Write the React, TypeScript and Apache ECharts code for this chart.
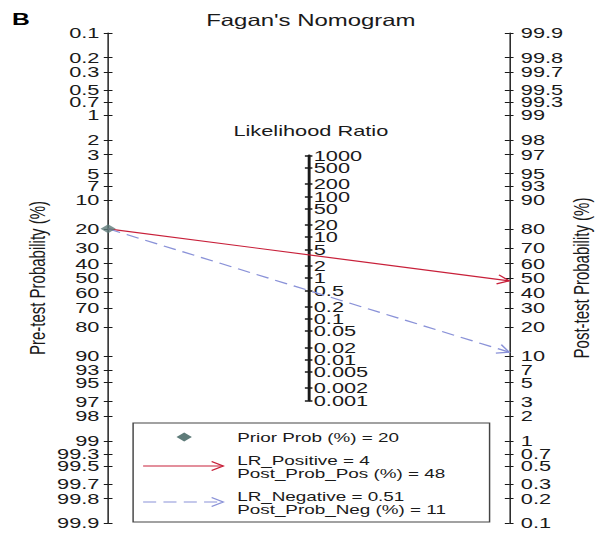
import React, { useEffect, useRef } from "react";
import * as echarts from "echarts";

// Tick values of the three nomogram scales
const probTicks = [
  0.1, 0.2, 0.3, 0.5, 0.7, 1, 2, 3, 5, 7, 10, 20, 30, 40, 50, 60, 70, 80, 90,
  93, 95, 97, 98, 99, 99.3, 99.5, 99.7, 99.8, 99.9,
];
const lrTicks = [
  1000, 500, 200, 100, 50, 20, 10, 5, 2, 1, 0.5, 0.2, 0.1, 0.05, 0.02, 0.01,
  0.005, 0.002, 0.001,
];

// Test results
const priorProb = 20;
const lrPositive = 4;
const postProbPos = 48;
const lrNegative = 0.51;
const postProbNeg = 11;

// Drawing is laid out at width W and stretched horizontally to the page width
const W = 412;
const H = 536;
const STRETCH = 598 / W;

const FONT = "'Liberation Sans', Arial, Helvetica, sans-serif";
const INK = "#1a1a1a";
const RED = "#c8203a";
const BLUE = "#8a92d8";
const DIAMOND = "#5e7b79";

const EPS = 1e-6;
const logit = (p: number) => Math.log(p / (100 - p));
const LMIN = logit(probTicks[0]);
const LMAX = logit(probTicks[probTicks.length - 1]);

// Main plotting area: left probability scale to right probability scale
const GL = 74.5;
const GR = 350.8;
const GT = 33;
const GH = 490;
const CENTER_Y = GT + GH / 2;
const PX_PER_UNIT = GH / (LMAX - LMIN);
// Likelihood ratio scale is half as steep (ln LR / 2 per logit unit)
const LR_MIN = Math.log(lrTicks[lrTicks.length - 1]);
const LR_MAX = Math.log(lrTicks[0]);
const MID_X = (GL + GR) / 2;
const MID_TOP = CENTER_Y - (LR_MAX / 2) * PX_PER_UNIT;
const MID_H = ((LR_MAX - LR_MIN) / 2) * PX_PER_UNIT;

const probValues = probTicks.map(logit);
const lrValues = lrTicks.map((v) => Math.log(v));
// The LR labels sit so close together that they are split over two stacked axes
const lrValuesA = lrValues.filter((_, i) => i % 2 === 0);
const lrValuesB = lrValues.filter((_, i) => i % 2 === 1);

const nearest = (ticks: number[], values: number[]) => (v: number) => {
  let best = 0;
  let d = Infinity;
  values.forEach((t, i) => {
    const dd = Math.abs(t - v);
    if (dd < d) {
      d = dd;
      best = i;
    }
  });
  return String(ticks[best]);
};

const probAxis = (position: "left" | "right", inverse: boolean, withLabels: boolean, insideTicks: boolean) => ({
  type: "value",
  gridIndex: 0,
  position,
  inverse,
  min: LMIN - EPS,
  max: LMAX + EPS,
  splitLine: { show: false },
  axisLine: { show: withLabels, onZero: false, lineStyle: { color: INK, width: 1 } },
  axisTick: {
    show: true,
    inside: insideTicks,
    length: 3,
    customValues: probValues,
    lineStyle: { color: INK, width: 1 },
  },
  axisLabel: {
    show: withLabels,
    customValues: probValues,
    formatter: nearest(probTicks, probValues),
    showMinLabel: true,
    showMaxLabel: true,
    margin: position === "left" ? 6 : 8,
    fontSize: 15,
    fontFamily: FONT,
    color: INK,
  },
});

const lrAxis = (showLine: boolean, insideTicks: boolean, labelValues: number[]) => ({
  type: "value",
  gridIndex: 1,
  position: "right",
  min: LR_MIN - EPS,
  max: LR_MAX + EPS,
  splitLine: { show: false },
  axisLine: { show: showLine, onZero: false, lineStyle: { color: INK, width: 2 } },
  axisTick: {
    show: true,
    inside: insideTicks,
    length: 2.6,
    customValues: lrValues,
    lineStyle: { color: INK, width: 1.5 },
  },
  axisLabel: {
    show: true,
    customValues: labelValues,
    formatter: nearest(lrTicks, lrValues),
    showMinLabel: true,
    showMaxLabel: true,
    margin: 3.5,
    fontSize: 15,
    fontFamily: FONT,
    color: INK,
  },
});

// Line from the prior on the left scale to the posterior on the right scale, ending in an open arrowhead
const arrowRenderer = (color: string, dash: number[] | null) => (params: any, api: any) => {
  const p0 = api.coord([api.value(0), api.value(1)]);
  const p1 = api.coord([api.value(2), api.value(3)]);
  const dx = p1[0] - p0[0];
  const dy = p1[1] - p0[1];
  const len = Math.sqrt(dx * dx + dy * dy);
  const ux = dx / len;
  const uy = dy / len;
  const back = 8;
  const half = 4.6;
  const bx = p1[0] - ux * back;
  const by = p1[1] - uy * back;
  return {
    type: "group",
    children: [
      {
        type: "line",
        shape: { x1: p0[0], y1: p0[1], x2: p1[0], y2: p1[1] },
        style: { stroke: color, lineWidth: 1.2, lineDash: dash || undefined, fill: "none" },
      },
      {
        type: "polyline",
        shape: {
          points: [
            [bx - uy * half, by + ux * half],
            [p1[0], p1[1]],
            [bx + uy * half, by - ux * half],
          ],
        },
        style: { stroke: color, lineWidth: 1.2, fill: "none" },
      },
    ],
  };
};

// Legend drawn as graphic elements
const LG = { x: 91.7, y: 423, w: 245.6, h: 99 };
const LEG_LINE_X0 = 98.6;
const LEG_LINE_X1 = 153.8;
const LEG_TEXT_X = 163.4;
const LEG_Z = 30;

const legendArrow = (y: number, color: string, dash: number[] | null) => [
  {
    type: "line",
    z: LEG_Z,
    shape: { x1: LEG_LINE_X0, y1: y, x2: LEG_LINE_X1, y2: y },
    style: { stroke: color, lineWidth: 1.2, lineDash: dash || undefined },
  },
  {
    type: "polyline",
    z: LEG_Z,
    shape: {
      points: [
        [LEG_LINE_X1 - 8, y - 4.6],
        [LEG_LINE_X1, y],
        [LEG_LINE_X1 - 8, y + 4.6],
      ],
    },
    style: { stroke: color, lineWidth: 1.2, fill: "none" },
  },
];

const legendText = (text: string, y: number) => ({
  type: "text",
  z: LEG_Z,
  x: LEG_TEXT_X,
  y,
  style: {
    text,
    fontSize: 13,
    fontFamily: FONT,
    fill: INK,
    textAlign: "left",
    textVerticalAlign: "middle",
  },
});

const dash = [9, 5];

const option: any = {
  animation: false,
  backgroundColor: "#ffffff",
  grid: [
    { left: GL, top: GT, width: GR - GL, height: GH },
    { left: MID_X - 50, top: MID_TOP, width: 50, height: MID_H },
  ],
  xAxis: [
    { type: "value", gridIndex: 0, min: 0, max: 1, show: false },
    { type: "value", gridIndex: 1, min: 0, max: 1, show: false },
  ],
  yAxis: [
    probAxis("left", true, true, false),
    probAxis("left", true, false, true),
    probAxis("right", false, true, false),
    probAxis("right", false, false, true),
    lrAxis(true, false, lrValuesA),
    lrAxis(false, true, lrValuesB),
  ],
  series: [
    {
      type: "custom",
      name: "LR_Positive",
      xAxisIndex: 0,
      yAxisIndex: 0,
      renderItem: arrowRenderer(RED, null),
      data: [[0, logit(priorProb), 1, -logit(postProbPos), lrPositive]],
      z: 5,
    },
    {
      type: "custom",
      name: "LR_Negative",
      xAxisIndex: 0,
      yAxisIndex: 0,
      renderItem: arrowRenderer(BLUE, dash),
      data: [[0, logit(priorProb), 1, -logit(postProbNeg), lrNegative]],
      z: 5,
    },
    {
      type: "scatter",
      name: "Prior Prob",
      xAxisIndex: 0,
      yAxisIndex: 0,
      symbol: "diamond",
      symbolSize: [10.5, 9],
      itemStyle: { color: DIAMOND },
      data: [[0, logit(priorProb)]],
      z: 10,
    },
  ],
  graphic: [
    {
      type: "text",
      x: 8.2,
      y: 18.5,
      style: {
        text: "B",
        fontSize: 17,
        fontWeight: "bold",
        fontFamily: FONT,
        fill: "#000",
        textAlign: "left",
        textVerticalAlign: "middle",
      },
    },
    {
      type: "text",
      x: MID_X + 1.5,
      y: 20,
      style: {
        text: "Fagan's Nomogram",
        fontSize: 16.5,
        fontFamily: FONT,
        fill: INK,
        textAlign: "center",
        textVerticalAlign: "middle",
      },
    },
    {
      type: "text",
      x: MID_X + 1.5,
      y: 131,
      style: {
        text: "Likelihood Ratio",
        fontSize: 15,
        fontFamily: FONT,
        fill: INK,
        textAlign: "center",
        textVerticalAlign: "middle",
      },
    },
    {
      type: "text",
      x: 25.5,
      y: CENTER_Y,
      rotation: Math.PI / 2,
      style: {
        text: "Pre-test Probability (%)",
        fontSize: 15,
        fontFamily: FONT,
        fill: INK,
        textAlign: "center",
        textVerticalAlign: "middle",
      },
    },
    {
      type: "text",
      x: 400.7,
      y: CENTER_Y,
      rotation: Math.PI / 2,
      style: {
        text: "Post-test Probability (%)",
        fontSize: 15,
        fontFamily: FONT,
        fill: INK,
        textAlign: "center",
        textVerticalAlign: "middle",
      },
    },
    {
      type: "group",
      children: [
        {
          type: "rect",
          z: LEG_Z - 1,
          shape: { x: LG.x, y: LG.y, width: LG.w, height: LG.h },
          style: { fill: "#ffffff", stroke: "#444", lineWidth: 1 },
        },
        {
          type: "polygon",
          z: LEG_Z,
          shape: {
            points: [
              [121.6, 437],
              [126.9, 432.5],
              [132.2, 437],
              [126.9, 441.5],
            ],
          },
          style: { fill: DIAMOND },
        },
        ...legendArrow(466, RED, null),
        ...legendArrow(502, BLUE, dash),
        legendText(`Prior Prob (%) = ${priorProb}`, 437),
        legendText(`LR_Positive = ${lrPositive}`, 460),
        legendText(`Post_Prob_Pos (%) = ${postProbPos}`, 473),
        legendText(`LR_Negative = ${lrNegative}`, 496.3),
        legendText(`Post_Prob_Neg (%) = ${postProbNeg}`, 509),
      ],
    },
  ],
};

export default function App() {
  const ref = useRef<HTMLDivElement>(null);
  useEffect(() => {
    if (!ref.current) return;
    const chart = echarts.init(ref.current, null, { renderer: "svg", width: W, height: H });
    chart.setOption(option);
    return () => chart.dispose();
  }, []);
  return (
    <div
      style={{
        position: "absolute",
        left: 0,
        top: 0,
        width: W,
        height: H,
        transform: `scaleX(${STRETCH})`,
        transformOrigin: "0 0",
        background: "#fff",
      }}
    >
      <div ref={ref} style={{ width: W, height: H }} />
    </div>
  );
}
